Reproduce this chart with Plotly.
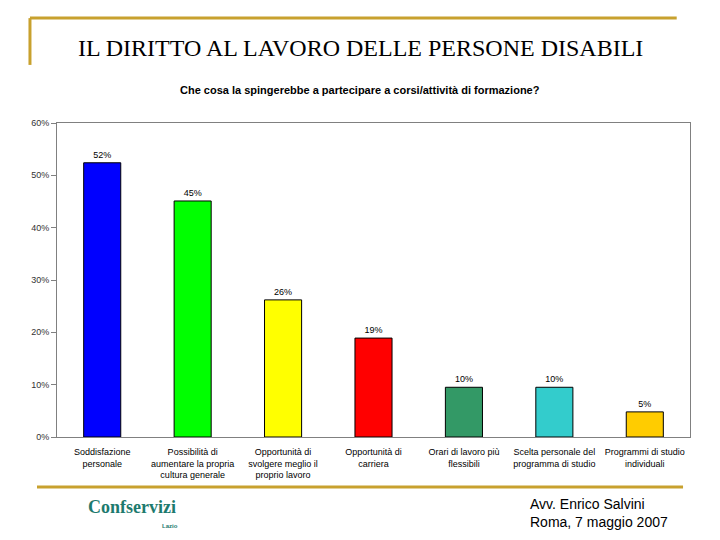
import plotly.graph_objects as go

categories = [
    "Soddisfazione<br>personale",
    "Possibilità di<br>aumentare la propria<br>cultura generale",
    "Opportunità di<br>svolgere meglio il<br>proprio lavoro",
    "Opportunità di<br>carriera",
    "Orari di lavoro più<br>flessibili",
    "Scelta personale del<br>programma di studio",
    "Programmi di studio<br>individuali",
]
values = [52.4, 45.1, 26.2, 18.9, 9.5, 9.5, 4.8]
value_labels = ["52%", "45%", "26%", "19%", "10%", "10%", "5%"]
bar_colors = ["#0000FF", "#00FF00", "#FFFF00", "#FF0000", "#339966", "#33CCCC", "#FFCC00"]
tick_vals = [0, 10, 20, 30, 40, 50, 60]
tick_text = ["0%", "10%", "20%", "30%", "40%", "50%", "60%"]

GOLD = "#C8A12E"

fig = go.Figure()
fig.add_trace(go.Bar(
    x=list(range(len(categories))),
    y=values,
    marker=dict(color=bar_colors, line=dict(color="black", width=1)),
    width=0.41,
    text=value_labels,
    textposition="outside",
    textfont=dict(family="Arial, Liberation Sans", size=9, color="black"),
    cliponaxis=False,
))

fig.update_layout(
    width=720, height=540,
    paper_bgcolor="white", plot_bgcolor="white",
    margin=dict(l=49, r=38, t=115, b=111),
    showlegend=False,
    xaxis=dict(
        tickmode="array",
        tickvals=list(range(len(categories))),
        ticktext=categories,
        tickfont=dict(family="Arial, Liberation Sans", size=9, color="black"),
        range=[-0.5, len(categories) - 0.5],
        showline=True, linecolor="#808080", linewidth=1, mirror=True,
        showgrid=False, ticks="",
        ticklabelstandoff=6,
        fixedrange=True,
    ),
    yaxis=dict(
        range=[0, 60],
        tickmode="array",
        tickvals=tick_vals,
        ticktext=tick_text,
        tickfont=dict(family="Arial, Liberation Sans", size=9, color="#333333"),
        showline=True, linecolor="#808080", linewidth=1, mirror=True,
        showgrid=False, ticks="outside", ticklen=5, tickcolor="#808080",
        zeroline=False,
    ),
    shapes=[
        dict(type="line", xref="paper", yref="paper", x0=-0.0427, x1=0.979, y0=1.334, y1=1.334,
             line=dict(color=GOLD, width=3)),
        dict(type="line", xref="paper", yref="paper", x0=-0.0427, x1=-0.0427, y0=1.334, y1=1.185,
             line=dict(color=GOLD, width=3)),
        dict(type="line", xref="paper", yref="paper", x0=-0.0316, x1=0.989, y0=-0.159, y1=-0.159,
             line=dict(color=GOLD, width=3)),
    ],
    annotations=[
        dict(text="IL DIRITTO AL LAVORO DELLE PERSONE DISABILI", xref="paper", yref="paper",
             x=0.479, y=1.239, xanchor="center", yanchor="middle", showarrow=False,
             font=dict(family="Liberation Serif, Times New Roman", size=24, color="black")),
        dict(text="<b>Che cosa la spingerebbe a partecipare a corsi/attività di formazione?</b>",
             xref="paper", yref="paper", x=0.479, y=1.105, xanchor="center", yanchor="middle",
             showarrow=False, font=dict(family="Arial, Liberation Sans", size=11, color="black")),
        dict(text="<b>Confservizi</b>", xref="paper", yref="paper", x=0.046, y=-0.224,
             xanchor="left", yanchor="middle", showarrow=False,
             font=dict(family="Liberation Serif", size=18, color="#1D7A6E")),
        dict(text="<b>Lazio</b>", xref="paper", yref="paper", x=0.163, y=-0.283,
             xanchor="left", yanchor="middle", showarrow=False,
             font=dict(family="Arial, Liberation Sans", size=6, color="#1D7A6E")),
        dict(text="Avv. Enrico Salvini<br>Roma, 7 maggio 2007", xref="paper", yref="paper",
             x=0.744, y=-0.242, xanchor="left", yanchor="middle", align="left", showarrow=False,
             font=dict(family="Arial, Liberation Sans", size=14, color="black")),
    ],
)

fig.write_html("out.html")
